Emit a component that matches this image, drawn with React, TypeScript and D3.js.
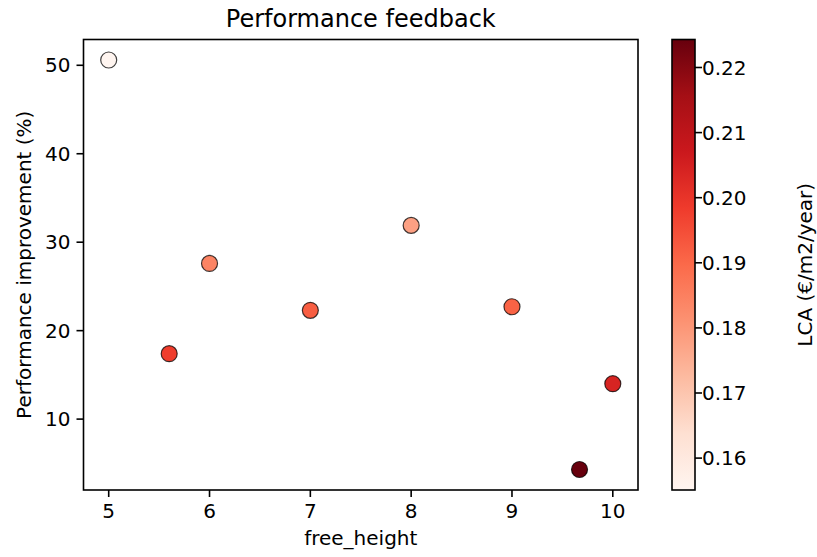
import React from "react";
import * as d3 from "d3";

const freeHeight = [5.0, 5.6, 6.0, 7.0, 8.0, 9.0, 9.67, 10.0];
const improvement = [50.6, 17.4, 27.6, 22.3, 31.9, 22.7, 4.3, 14.0];
const lca = [0.1551, 0.198, 0.184, 0.192, 0.178, 0.191, 0.2243, 0.204];
const xTicks = [5, 6, 7, 8, 9, 10];
const yTicks = [10, 20, 30, 40, 50];
const cbTicks = [0.16, 0.17, 0.18, 0.19, 0.2, 0.21, 0.22];
const redsStops = ["#fff5f0", "#fee0d2", "#fcbba1", "#fc9272", "#fb6a4a", "#ef3b2c", "#cb181d", "#a50f15", "#67000d"];

const W = 817, H = 557;
const ax = { left: 83.5, right: 638, top: 39.5, bottom: 490 };
const cb = { left: 672, right: 695, top: 39.5, bottom: 490 };
const FONT = "DejaVu Sans, sans-serif";

export default function App() {
  const xPad = (d3.max(freeHeight)! - d3.min(freeHeight)!) * 0.05;
  const x = d3.scaleLinear()
    .domain([d3.min(freeHeight)! - xPad, d3.max(freeHeight)! + xPad])
    .range([ax.left, ax.right]);
  const yPad = (d3.max(improvement)! - d3.min(improvement)!) * 0.05;
  const y = d3.scaleLinear()
    .domain([d3.min(improvement)! - yPad, d3.max(improvement)! + yPad])
    .range([ax.bottom, ax.top]);
  const [cmin, cmax] = d3.extent(lca) as [number, number];
  const t = d3.scaleLinear().domain([cmin, cmax]).range([0, 1]).clamp(true);
  const reds = d3.scaleLinear<string>()
    .domain(redsStops.map((_, i) => i / (redsStops.length - 1)))
    .range(redsStops)
    .interpolate(d3.interpolateRgb);
  const color = (v: number) => reds(t(v));
  const cy = d3.scaleLinear().domain([cmin, cmax]).range([cb.bottom, cb.top]);

  const order = d3.range(freeHeight.length);

  return (
    <svg width={W} height={H} style={{ position: "absolute", left: 0, top: 0, background: "#fff" }} fontFamily={FONT}>
      <defs>
        <linearGradient id="redsGrad" x1="0" y1="1" x2="0" y2="0">
          {redsStops.map((c, i) => (
            <stop key={i} offset={i / (redsStops.length - 1)} stopColor={c} />
          ))}
        </linearGradient>
      </defs>
      <rect x={0} y={0} width={W} height={H} fill="#fff" />
      {/* title */}
      <text x={(ax.left + ax.right) / 2} y={27} textAnchor="middle" fontSize={24} fill="#000">Performance feedback</text>
      {/* points */}
      {order.map((i) => (
        <circle key={i} cx={x(freeHeight[i])} cy={y(improvement[i])} r={8}
          fill={color(lca[i])} stroke="#000" strokeOpacity={0.75} strokeWidth={1.2} />
      ))}
      {/* axes frame */}
      <rect x={ax.left} y={ax.top} width={ax.right - ax.left} height={ax.bottom - ax.top}
        fill="none" stroke="#000" strokeWidth={1.6} />
      {/* x ticks */}
      {xTicks.map((v) => (
        <g key={v}>
          <line x1={x(v)} x2={x(v)} y1={ax.bottom} y2={ax.bottom + 7} stroke="#000" strokeWidth={1.6} />
          <text x={x(v)} y={ax.bottom + 28} textAnchor="middle" fontSize={20} fill="#000">{v}</text>
        </g>
      ))}
      <text x={(ax.left + ax.right) / 2} y={545} textAnchor="middle" fontSize={20} fill="#000">free_height</text>
      {/* y ticks */}
      {yTicks.map((v) => (
        <g key={v}>
          <line x1={ax.left - 7} x2={ax.left} y1={y(v)} y2={y(v)} stroke="#000" strokeWidth={1.6} />
          <text x={ax.left - 13} y={y(v)} dy="0.36em" textAnchor="end" fontSize={20} fill="#000">{v}</text>
        </g>
      ))}
      <text transform={`translate(31,${(ax.top + ax.bottom) / 2}) rotate(-90)`} textAnchor="middle" fontSize={20} fill="#000">
        Performance improvement (%)
      </text>
      {/* colorbar */}
      <rect x={cb.left} y={cb.top} width={cb.right - cb.left} height={cb.bottom - cb.top} fill="url(#redsGrad)" />
      <rect x={cb.left} y={cb.top} width={cb.right - cb.left} height={cb.bottom - cb.top} fill="none" stroke="#000" strokeWidth={1.6} />
      {cbTicks.map((v) => (
        <g key={v}>
          <line x1={cb.right} x2={cb.right + 7} y1={cy(v)} y2={cy(v)} stroke="#000" strokeWidth={1.6} />
          <text x={cb.right + 7} y={cy(v)} dy="0.36em" fontSize={20} fill="#000">{v.toFixed(2)}</text>
        </g>
      ))}
      <text transform={`translate(812,${(cb.top + cb.bottom) / 2}) rotate(-90)`} textAnchor="middle" fontSize={20} fill="#000">
        LCA (€/m2/year)
      </text>
    </svg>
  );
}
